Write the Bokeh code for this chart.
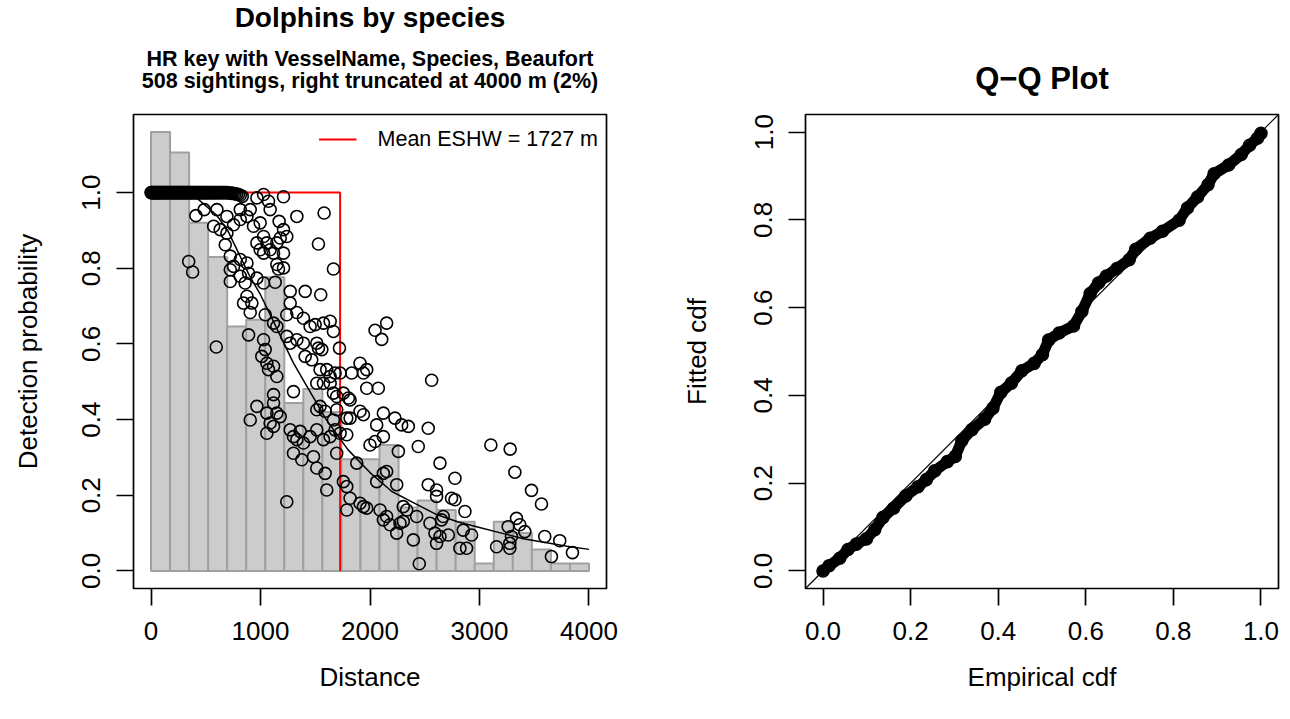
import numpy as np
from bokeh.plotting import figure
from bokeh.layouts import row, column
from bokeh.models import (Range1d, FixedTicker, PrintfTickFormatter,
                          Legend, LegendItem, Slope)
from bokeh.core.properties import value
from bokeh.embed import file_html
from bokeh.resources import INLINE

FONT = "Liberation Sans"

# ---------------- data ----------------
truncation = 4000
n_bins = 23
hist_heights = [1.160, 1.106, 0.920, 0.830, 0.646, 0.664, 0.776, 0.444, 0.481,
                0.420, 0.295, 0.295, 0.333, 0.168, 0.186, 0.161, 0.130, 0.020,
                0.130, 0.100, 0.057, 0.020, 0.020]

mean_eshw = 1727
g_zero = 1.0

curve_dist = [0, 200, 400, 600, 700, 800, 900, 1000, 1100, 1200, 1300, 1400,
              1500, 1600, 1700, 1800, 2000, 2200, 2400, 2600, 2800, 3000, 3200,
              3400, 3600, 3800, 4000]
curve_p = [1.0, 1.0, 0.99, 0.94, 0.90, 0.84, 0.78, 0.73, 0.67, 0.61, 0.55,
           0.50, 0.45, 0.40, 0.36, 0.32, 0.26, 0.21, 0.18, 0.15, 0.13, 0.115,
           0.10, 0.085, 0.075, 0.065, 0.057]

band_dist = [0, 5, 12, 18, 25, 31, 38, 46, 52, 60, 67, 75, 83, 90, 98, 105, 113,
             120, 128, 136, 143, 151, 160, 168, 175, 183, 190, 199, 207, 215,
             222, 230, 238, 246, 254, 262, 270, 278, 286, 294, 302, 310, 318,
             326, 334, 342, 350, 358, 366, 375, 383, 391, 400, 408, 416, 425,
             433, 442, 450, 459, 468, 476, 485, 494, 503, 512, 521, 530, 540,
             549, 558, 568, 578, 588, 598, 608, 618, 629, 640, 651, 662, 674,
             686, 698, 711, 724, 738, 752, 767, 782, 798, 815, 833]
band_p = [1.0, 1.0, 1.0, 1.0, 1.0, 1.0, 1.0, 1.0, 1.0, 1.0, 1.0, 1.0, 1.0, 1.0,
          1.0, 1.0, 1.0, 1.0, 1.0, 1.0, 1.0, 1.0, 1.0, 1.0, 1.0, 1.0, 1.0, 1.0,
          1.0, 1.0, 1.0, 1.0, 1.0, 1.0, 1.0, 1.0, 1.0, 1.0, 1.0, 1.0, 1.0, 1.0,
          1.0, 1.0, 1.0, 1.0, 1.0, 1.0, 1.0, 1.0, 1.0, 1.0, 1.0, 1.0, 1.0, 1.0,
          1.0, 1.0, 1.0, 1.0, 1.0, 1.0, 1.0, 1.0, 1.0, 1.0, 1.0, 1.0, 1.0, 1.0,
          1.0, 1.0, 1.0, 1.0, 1.0, 1.0, 1.0, 1.0, 1.0, 1.0, 1.0, 1.0, 1.0, 1.0,
          0.999, 0.999, 0.998, 0.998, 0.997, 0.996, 0.995, 0.993, 0.99]

scatter_pairs = [
    (1028, 0.995), (1210, 0.989), (967, 0.986), (1073, 0.977), (1088, 0.955),
    (410, 0.939), (486, 0.955), (1332, 0.937), (1581, 0.946), (602, 0.955),
    (693, 0.937), (815, 0.955), (906, 0.955),
    (572, 0.911), (632, 0.902), (693, 0.893), (754, 0.915), (815, 0.929),
    (876, 0.937), (936, 0.911), (997, 0.920),
    (1170, 0.924), (1210, 0.902), (1240, 0.884), (1180, 0.880), (1149, 0.867),
    (1088, 0.849), (1058, 0.867), (1028, 0.884), (967, 0.867), (997, 0.849),
    (1028, 0.840), (1119, 0.840), (1210, 0.840), (1149, 0.810), (1210, 0.801),
    (1164, 0.798),
    (1529, 0.864), (678, 0.862), (724, 0.832), (754, 0.805), (724, 0.796),
    (815, 0.823), (876, 0.814), (891, 0.787), (815, 0.779),
    (344, 0.818), (380, 0.790), (1666, 0.798),
    (724, 0.765), (860, 0.761), (967, 0.774), (1028, 0.761), (1134, 0.763),
    (1271, 0.739), (1408, 0.739), (1550, 0.730),
    (845, 0.708), (921, 0.708), (906, 0.683), (876, 0.726),
    (1043, 0.677), (1119, 0.655), (1149, 0.646), (1240, 0.677), (1271, 0.708),
    (1332, 0.683), (1392, 0.668), (1453, 0.646), (1499, 0.651), (1636, 0.660),
    (1575, 0.655), (1666, 0.633),
    (596, 0.592), (891, 0.624),
    (1028, 0.611), (1043, 0.585), (1012, 0.567), (1058, 0.549), (1073, 0.532),
    (1119, 0.541), (1149, 0.514),
    (1240, 0.620), (1271, 0.602), (1332, 0.611), (1392, 0.602), (1408, 0.567),
    (1468, 0.558), (1514, 0.602), (1529, 0.589), (1560, 0.585), (1721, 0.589),
    (1301, 0.474), (1119, 0.466), (1119, 0.444),
    (2046, 0.636), (2152, 0.655), (2107, 0.612),
    (1544, 0.532), (1605, 0.532), (1636, 0.514), (1681, 0.523), (1727, 0.523),
    (1833, 0.523), (1909, 0.549), (1940, 0.523), (1970, 0.532),
    (1514, 0.496), (1575, 0.496), (1636, 0.496), (1666, 0.470), (1696, 0.461),
    (1757, 0.470), (1803, 0.457), (1818, 0.452),
    (1970, 0.483), (2076, 0.483), (2563, 0.504),
    (967, 0.435), (906, 0.399), (1058, 0.417), (1088, 0.391), (1119, 0.382),
    (1058, 0.364), (1149, 0.417), (1180, 0.408),
    (1514, 0.426), (1544, 0.435), (1590, 0.422), (1666, 0.399), (1696, 0.426),
    (1788, 0.404), (1818, 0.404), (1909, 0.422), (1940, 0.413),
    (2122, 0.417), (2061, 0.386), (2228, 0.404), (2289, 0.386), (2350, 0.382),
    (2532, 0.377), (2441, 0.329),
    (1271, 0.373), (1301, 0.355), (1332, 0.347), (1362, 0.369), (1392, 0.338),
    (1453, 0.355), (1514, 0.373), (1575, 0.347), (1636, 0.355), (1681, 0.373),
    (1727, 0.364), (1788, 0.360),
    (2000, 0.333), (2046, 0.342), (2122, 0.355), (2259, 0.316),
    (1301, 0.311), (1377, 0.294), (1484, 0.302), (1514, 0.272), (1590, 0.258),
    (1605, 0.214), (1696, 0.311),
    (1240, 0.183),
    (1757, 0.236), (1788, 0.223), (1879, 0.285), (1909, 0.179), (1940, 0.170),
    (1970, 0.166), (1788, 0.161), (1818, 0.192),
    (2061, 0.236), (2122, 0.258), (2152, 0.263), (2244, 0.228), (2304, 0.170),
    (2335, 0.161),
    (2092, 0.161), (2122, 0.135), (2152, 0.144), (2183, 0.122), (2244, 0.100),
    (2274, 0.126), (2304, 0.131), (2396, 0.082), (2426, 0.144),
    (2450, 0.019),
    (2532, 0.228), (2608, 0.214), (2639, 0.285), (2776, 0.245), (2608, 0.197),
    (2745, 0.192), (2776, 0.188), (2867, 0.157),
    (2548, 0.126), (2593, 0.100), (2608, 0.073), (2654, 0.135), (2669, 0.144),
    (2715, 0.095), (2639, 0.091),
    (2821, 0.060), (2882, 0.060), (2852, 0.108), (2928, 0.095),
    (3104, 0.333), (3280, 0.322), (3323, 0.261), (3475, 0.213), (3566, 0.177),
    (3156, 0.064), (3262, 0.117), (3277, 0.073), (3277, 0.060), (3338, 0.139),
    (3368, 0.122), (3414, 0.104), (3292, 0.091),
    (3596, 0.091), (3733, 0.080), (3657, 0.038), (3849, 0.0485),
]

qq_emp = [0.000, 0.014, 0.038, 0.057, 0.076, 0.099, 0.118, 0.137, 0.161, 0.189,
          0.217, 0.236, 0.255, 0.284, 0.302, 0.317, 0.340, 0.369, 0.388, 0.406,
          0.430, 0.454, 0.482, 0.501, 0.515, 0.539, 0.572, 0.591, 0.610, 0.629,
          0.647, 0.671, 0.699, 0.714, 0.747, 0.775, 0.813, 0.832, 0.855, 0.879,
          0.893, 0.926, 0.955, 0.974, 0.992, 1.000]
qq_fit = [0.000, 0.012, 0.029, 0.049, 0.061, 0.073, 0.094, 0.122, 0.143, 0.171,
          0.192, 0.208, 0.228, 0.249, 0.261, 0.297, 0.322, 0.346, 0.371, 0.407,
          0.428, 0.456, 0.473, 0.493, 0.526, 0.542, 0.558, 0.591, 0.632, 0.656,
          0.672, 0.689, 0.709, 0.733, 0.758, 0.774, 0.799, 0.827, 0.852, 0.880,
          0.905, 0.925, 0.949, 0.970, 0.986, 0.997]

title_main = "Dolphins by species"
subtitle_1 = "HR key with VesselName, Species, Beaufort"
subtitle_2 = "508 sightings, right truncated at 4000 m (2%)"
qq_title = "Q\u2212Q Plot"

dist_ticks = [0, 1000, 2000, 3000, 4000]
prob_ticks = [0.0, 0.2, 0.4, 0.6, 0.8, 1.0]

# ---------------- layout geometry (page pixels) ----------------
FRAME_W, FRAME_H = 473, 474
HEAD = 110            # header strip holding the titles
TOP, BOTTOM = 4, 125  # frame top lands at HEAD + TOP = 114
L1, R1 = 133, 40
L2, R2 = 159, 8
W1 = L1 + FRAME_W + R1
W2 = L2 + FRAME_W + R2
H = TOP + FRAME_H + BOTTOM


def style(p, xlabel, ylabel, ylabel_standoff):
    p.xgrid.visible = False
    p.ygrid.visible = False
    p.outline_line_color = "black"
    p.outline_line_width = 1.7
    p.outline_line_alpha = 1.0
    p.background_fill_color = "white"
    p.border_fill_color = "white"
    for ax in (p.xaxis[0], p.yaxis[0]):
        ax.axis_line_color = None
        ax.major_tick_out = 17
        ax.major_tick_in = 0
        ax.major_tick_line_color = "black"
        ax.major_tick_line_width = 1.7
        ax.minor_tick_line_color = None
        ax.major_label_text_font = FONT
        ax.major_label_text_font_size = "26px"
        ax.major_label_text_color = "black"
        ax.major_label_standoff = 16
        ax.axis_label_text_font = FONT
        ax.axis_label_text_font_size = "26px"
        ax.axis_label_text_font_style = "normal"
        ax.axis_label_text_color = "black"
    p.yaxis[0].major_label_orientation = "vertical"
    p.xaxis[0].axis_label = xlabel
    p.yaxis[0].axis_label = ylabel
    p.xaxis[0].axis_label_standoff = 19
    p.yaxis[0].axis_label_standoff = ylabel_standoff


def header(x_start, width):
    # a strip whose data coordinates equal page pixels
    h = figure(width=width, height=HEAD,
               x_range=Range1d(x_start, x_start + width),
               y_range=Range1d(HEAD, 0),
               x_axis_location=None, y_axis_location=None,
               output_backend="svg", toolbar_location=None,
               min_border_left=0, min_border_right=0,
               min_border_top=0, min_border_bottom=0)
    h.xgrid.visible = False
    h.ygrid.visible = False
    h.outline_line_color = None
    h.background_fill_color = "white"
    h.border_fill_color = "white"
    return h


def head_text(h, x, y, text, size):
    h.text(x=[x], y=[y], text=[text], text_font=value(FONT),
           text_font_size=value(size), text_font_style="bold",
           text_align="center", text_baseline="middle", text_color="black")


# ---------------- left panel ----------------
ymax = max(hist_heights)
x0, x1 = -0.04 * truncation, truncation * 1.04
y0, y1 = -0.04 * ymax, ymax * 1.04

p1 = figure(width=W1, height=H,
            x_range=Range1d(x0, x1), y_range=Range1d(y0, y1),
            output_backend="svg", toolbar_location=None,
            min_border_left=L1, min_border_right=R1,
            min_border_top=TOP, min_border_bottom=BOTTOM)
style(p1, "Distance", "Detection probability", 37)
p1.xaxis.ticker = FixedTicker(ticks=dist_ticks)
p1.xaxis.formatter = PrintfTickFormatter(format="%d")
p1.yaxis.ticker = FixedTicker(ticks=prob_ticks)
p1.yaxis.formatter = PrintfTickFormatter(format="%.1f")

edges = np.linspace(0, truncation, n_bins + 1)
p1.quad(left=edges[:-1], right=edges[1:], bottom=0, top=hist_heights,
        fill_color="#cccccc", line_color="#a0a0a0", line_width=2)

r_eshw = p1.line([0, mean_eshw, mean_eshw], [g_zero, g_zero, 0],
                 color="#ff0000", line_width=2)

all_d = band_dist + [d for d, _ in scatter_pairs]
all_p = band_p + [q for _, q in scatter_pairs]
p1.scatter(all_d, all_p, marker="circle", size=12, fill_color=None,
           line_color="black", line_width=1.6)
p1.line(curve_dist, curve_p, color="black", line_width=1.5)

legend = Legend(items=[LegendItem(label=f"Mean ESHW = {mean_eshw} m",
                                  renderers=[r_eshw])],
                location="top_right", margin=8, padding=9, spacing=0,
                glyph_width=38, glyph_height=34, label_height=34,
                label_standoff=21, label_text_font=FONT,
                label_text_font_size="21.5px", label_text_color="black",
                border_line_color=None, background_fill_alpha=0)
p1.add_layout(legend)

h1 = header(0, W1)
head_text(h1, 369.5, 17, title_main, "28px")
head_text(h1, 369.5, 58, subtitle_1, "21.5px")
head_text(h1, 369.5, 80, subtitle_2, "21.5px")

# ---------------- right panel ----------------
q0, q1 = -0.04, 1.04
p2 = figure(width=W2, height=H,
            x_range=Range1d(q0, q1), y_range=Range1d(q0, q1),
            output_backend="svg", toolbar_location=None,
            min_border_left=L2, min_border_right=R2,
            min_border_top=TOP, min_border_bottom=BOTTOM)
style(p2, "Empirical cdf", "Fitted cdf", 40)
p2.xaxis.ticker = FixedTicker(ticks=prob_ticks)
p2.yaxis.ticker = FixedTicker(ticks=prob_ticks)
p2.xaxis.formatter = PrintfTickFormatter(format="%.1f")
p2.yaxis.formatter = PrintfTickFormatter(format="%.1f")

p2.line(qq_emp, qq_fit, color="black", line_width=11, line_cap="round",
        line_join="round")
p2.scatter(qq_emp, qq_fit, marker="circle", size=12, fill_color=None,
           line_color="black", line_width=1.6)
p2.add_layout(Slope(gradient=1, y_intercept=0, line_color="black",
                    line_width=1.2))

h2 = header(W1, W2)
head_text(h2, W1 + L2 + FRAME_W / 2, 78, qq_title, "31px")

layout = column(row(h1, h2, spacing=0), row(p1, p2, spacing=0), spacing=0)
open("out.html", "w").write(file_html(layout, INLINE))
